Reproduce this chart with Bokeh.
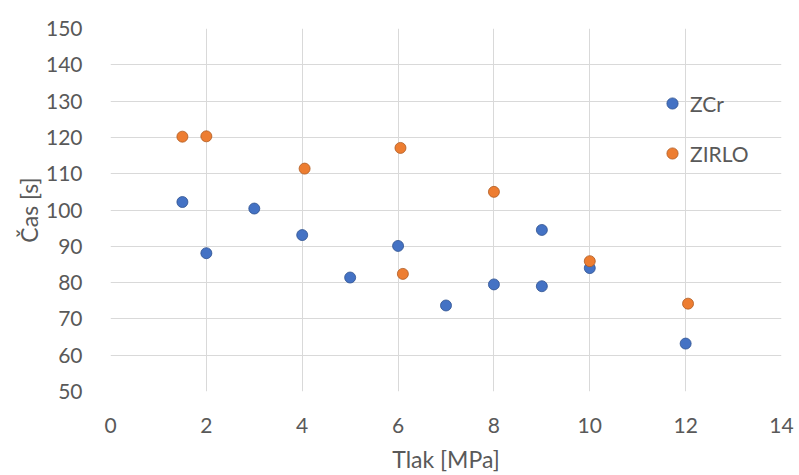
from bokeh.plotting import figure
from bokeh.models import Range1d, FixedTicker, Legend, LegendItem
from bokeh.embed import file_html
from bokeh.resources import INLINE

# Data
zcr_x = [1.5, 2.0, 3.0, 4.0, 5.0, 6.0, 7.0, 8.0, 9.0, 9.0, 10.0, 12.0]
zcr_y = [102.2, 88.1, 100.4, 93.1, 81.4, 90.1, 73.7, 79.5, 79.0, 94.5, 84.0, 63.2]
zirlo_x = [1.5, 2.0, 4.05, 6.05, 6.1, 8.0, 10.0, 12.05]
zirlo_y = [120.2, 120.3, 111.4, 117.1, 82.4, 105.0, 85.9, 74.2]
x_ticks = [0, 2, 4, 6, 8, 10, 12, 14]
y_ticks = [50, 60, 70, 80, 90, 100, 110, 120, 130, 140, 150]

FONT = "Lato"
GRAY = "#595959"

p = figure(width=799, height=475, output_backend="svg", toolbar_location=None,
           x_range=Range1d(0, 14), y_range=Range1d(50, 150),
           min_border_left=110, min_border_right=18, min_border_top=28, min_border_bottom=83)
p.outline_line_color = None
p.background_fill_color = "white"
p.border_fill_color = "white"

for ax in (p.xaxis[0], p.yaxis[0]):
    ax.axis_line_color = None
    ax.major_tick_line_color = None
    ax.minor_tick_line_color = None
    ax.major_label_text_font = FONT
    ax.major_label_text_font_size = "21px"
    ax.major_label_text_color = GRAY
    ax.axis_label_text_font = FONT
    ax.axis_label_text_font_size = "23px"
    ax.axis_label_text_color = GRAY
    ax.axis_label_text_font_style = "normal"

p.xaxis.ticker = FixedTicker(ticks=x_ticks)
p.yaxis.ticker = FixedTicker(ticks=y_ticks)
p.xaxis.axis_label = "Tlak [MPa]"
p.yaxis.axis_label = "Čas [s]"
p.xaxis.major_label_standoff = 20
p.yaxis.major_label_standoff = 22
p.xaxis.axis_label_standoff = 9
p.yaxis.axis_label_standoff = 0

p.xgrid.ticker = FixedTicker(ticks=x_ticks)
p.ygrid.ticker = FixedTicker(ticks=y_ticks)
p.xgrid.grid_line_color = "#D9D9D9"
p.ygrid.grid_line_color = "#D9D9D9"

r1 = p.scatter(zcr_x, zcr_y, size=11, fill_color="#4472C4", line_color="#2F528F", line_width=0.8)
r2 = p.scatter(zirlo_x, zirlo_y, size=11, fill_color="#ED7D31", line_color="#AE5A21", line_width=0.8)

legend = Legend(items=[LegendItem(label="ZCr", renderers=[r1]),
                       LegendItem(label="ZIRLO", renderers=[r2])],
                location=(548, 224))
legend.background_fill_alpha = 0
legend.border_line_color = None
legend.padding = 0
legend.margin = 0
legend.spacing = 22
legend.glyph_width = 28
legend.glyph_height = 28
legend.label_height = 28
legend.label_standoff = 4
legend.label_text_font = FONT
legend.label_text_font_size = "21px"
legend.label_text_color = GRAY
p.add_layout(legend)

open("out.html", "w").write(file_html(p, INLINE))
